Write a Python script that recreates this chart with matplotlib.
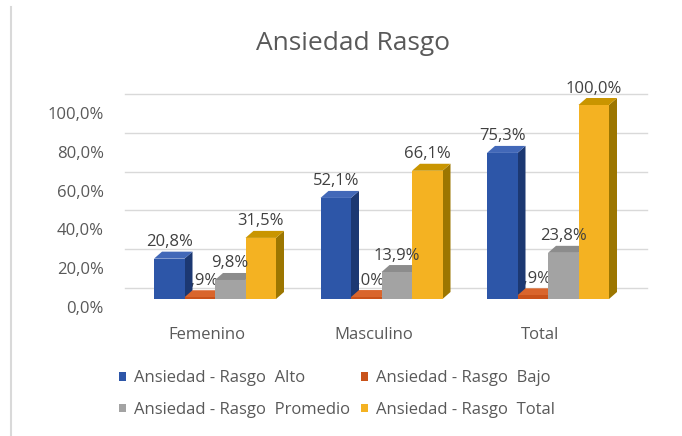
import matplotlib
matplotlib.use("Agg")
from matplotlib import pyplot as plt
from matplotlib.patches import Polygon, Patch
from matplotlib.transforms import ScaledTranslation

plt.rcParams['font.family'] = ['Open Sans', 'DejaVu Sans']

categories = ["Femenino", "Masculino", "Total"]
series_names = ["Ansiedad - Rasgo  Alto", "Ansiedad - Rasgo  Bajo",
                "Ansiedad - Rasgo  Promedio", "Ansiedad - Rasgo  Total"]
alto = [20.8, 52.1, 75.3]
bajo = [0.9, 1.0, 1.9]
promedio = [9.8, 13.9, 23.8]
total = [31.5, 66.1, 100.0]
yticks = [0, 20, 40, 60, 80, 100]

values = [alto, bajo, promedio, total]
# front, side, top
colors = [("#2D56A8", "#1C3872", "#4268B8"),
          ("#C9521A", "#8E3510", "#D9652C"),
          ("#A3A3A3", "#6E6E6E", "#8C8C8C"),
          ("#F4B222", "#9C7600", "#C99500")]

fig = plt.figure(figsize=(6.82, 4.36), dpi=100)
W, H = 682, 436
# axes in pixel terms
ax_l, ax_r, ax_t, ax_b = 115, 655, 80, 310
ax = fig.add_axes([ax_l / W, 1 - ax_b / H, (ax_r - ax_l) / W, (ax_b - ax_t) / H])

px_x = 166.5      # pixels per category
px_y = 1.94       # pixels per percent
x0_px, y0_px = 215, 299
ax.set_xlim((ax_l - x0_px) / px_x, (ax_r - x0_px) / px_x)
ax.set_ylim(-(ax_b - y0_px) / px_y, (y0_px - ax_t) / px_y)

bw = 30.5 / px_x
dx = 8 / px_x
dy = 7 / px_y
grid_dy = 11 / px_y

# back wall gridlines
for v in yticks:
    ax.plot([(125 - x0_px) / px_x, (647 - x0_px) / px_x], [v + grid_dy] * 2,
            color="#D9D9D9", lw=1, zorder=0)

for i, (vals, (cf, cs, ct)) in enumerate(zip(values, colors)):
    for j, h in enumerate(vals):
        xl = j - 2 * bw + i * bw
        xr = xl + bw
        ax.add_patch(Polygon([(xr, 0), (xr, h), (xr + dx, h + dy), (xr + dx, dy)],
                             closed=True, fc=cs, ec="none", zorder=2))
        ax.add_patch(Polygon([(xl, h), (xr, h), (xr + dx, h + dy), (xl + dx, h + dy)],
                             closed=True, fc=ct, ec="none", zorder=2))
        ax.bar(xl, h, width=bw, align="edge", color=cf, zorder=2)
        lbl = f"{h:.1f}%".replace(".", ",")
        z = 1.5 if i == 1 else 5
        ax.annotate(lbl, (xl + bw / 2, h), xytext=(0, 9),
                    textcoords="offset points", ha="center", va="baseline",
                    fontsize=12, color="#404040", zorder=z)

ax.set_yticks(yticks)
ax.set_yticklabels([f"{v:.1f}%".replace(".", ",") for v in yticks])
ax.set_xticks(range(len(categories)))
ax.set_xticklabels(categories)
ax.tick_params(axis="both", length=0, labelsize=12, labelcolor="#595959")
ax.tick_params(axis="y", pad=8)
ax.tick_params(axis="x", pad=12)
for t in ax.get_yticklabels():
    t.set_transform(t.get_transform() + ScaledTranslation(0, -8 / 100, fig.dpi_scale_trans))
for t in ax.get_xticklabels():
    t.set_transform(t.get_transform() + ScaledTranslation(-8 / 100, 0, fig.dpi_scale_trans))
for s in ax.spines.values():
    s.set_visible(False)
ax.patch.set_visible(False)

fig.text(353 / W, 1 - 43 / H, "Ansiedad Rasgo", ha="center", va="center",
         fontsize=19, color="#595959")

# legend fills column-wise, reorder so rows read Alto/Bajo, Promedio/Total
order = [0, 2, 1, 3]
handles = [Patch(facecolor=colors[k][0]) for k in order]
labels = [series_names[k] for k in order]
fig.legend(handles, labels, ncol=2, loc="center",
           bbox_to_anchor=(337 / W, 1 - 394 / H), frameon=False,
           fontsize=12, labelcolor="#595959", handlelength=0.45, handleheight=0.45,
           handletextpad=0.5, columnspacing=0.6, labelspacing=0.95)

# chart area left border
fig.add_artist(plt.Line2D([11 / W, 11 / W], [0, 1 - 7 / H], color="#D9D9D9", lw=1.5))

fig.savefig("out.png", dpi=100)
